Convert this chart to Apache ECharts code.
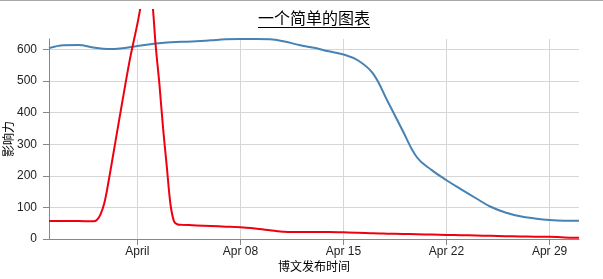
<!DOCTYPE html>
<html><head><meta charset="utf-8">
<script src="https://cdn.jsdelivr.net/npm/echarts@6/dist/echarts.min.js"></script>
<style>html,body{margin:0;padding:0;background:#fff}#c{width:603px;height:279px}</style>
</head><body><div id="c"></div>
<script>
const chartTitle = '一个简单的图表';
const xAxisName = '博文发布时间';
const yAxisName = '影响力';
const YEAR = 2013;

const blueDates = ['03-26','03-27','03-28','03-29','03-30','03-31',
  '04-01','04-02','04-03','04-04','04-05','04-06','04-07','04-08','04-09','04-10',
  '04-11','04-12','04-13','04-14','04-15','04-16','04-17','04-18','04-19','04-20',
  '04-21','04-22','04-23','04-24','04-25','04-26','04-27','04-28','04-29','04-30','05-01'];
const blueValues = [604,613,614,606,601,604,
  611,617,622,624,626,629,632,633,633,632,
  625,614,605,594,584,565,524,436,345,258,
  218,186,157,129,102,84,72,65,60,58,58];

const redDates = ['03-26 00:00','03-27 00:00','03-28 00:00','03-29 00:00','03-29 06:00','03-29 12:00','03-29 18:00',
  '03-30 00:00','03-30 12:00','03-31 00:00','03-31 12:00','04-01 00:00','04-01 12:00','04-01 18:00',
  '04-02 00:00','04-02 06:00','04-02 12:00','04-02 18:00','04-03 00:00','04-03 06:00','04-03 12:00','04-03 18:00',
  '04-04 00:00','04-05 00:00','04-06 00:00','04-07 00:00','04-08 00:00','04-09 00:00','04-10 00:00','04-11 00:00',
  '04-12 00:00','04-13 00:00','04-14 00:00','04-15 00:00','04-16 00:00','04-17 00:00','04-18 00:00','04-19 00:00',
  '04-20 00:00','04-21 00:00','04-22 00:00','04-23 00:00','04-24 00:00','04-25 00:00','04-26 00:00','04-27 00:00',
  '04-28 00:00','04-29 00:00','04-30 00:00','05-01 00:00'];
const redValues = [57,57,57,56,60,78,112,
  170,305,440,570,680,800,830,
  760,610,490,350,230,110,55,46,
  45,43,41,39,37,33,28,23,
  22,22,22,21,20,18,17,16,
  15,14,13,12,11,10,9,8,
  7.5,7,5,4];

const xTickDates = ['04-01','04-08','04-15','04-22','04-29'];
const yTickValues = [0,100,200,300,400,500,600];
const xStart = '03-26', xEnd = '05-01';
const yMax = 633;

const monthsFull = ['January','February','March','April','May','June','July','August','September','October','November','December'];
const monthsShort = ['Jan','Feb','Mar','Apr','May','Jun','Jul','Aug','Sep','Oct','Nov','Dec'];

function ts(s) {
  const parts = s.split(' ');
  const md = parts[0].split('-').map(Number);
  let h = 0, mi = 0;
  if (parts[1]) { const hm = parts[1].split(':').map(Number); h = hm[0]; mi = hm[1]; }
  return Date.UTC(YEAR, md[0] - 1, md[1], h, mi);
}
function fmt(v) {
  const d = new Date(v);
  if (d.getUTCDate() === 1) return monthsFull[d.getUTCMonth()];
  const dd = d.getUTCDate();
  return monthsShort[d.getUTCMonth()] + ' ' + (dd < 10 ? '0' + dd : '' + dd);
}

const labelFont = 'Liberation Sans';
const cjkFont = 'Noto Sans CJK SC';

const chart = echarts.init(document.getElementById('c'), null, {renderer: 'canvas'});
chart.setOption({
  animation: false,
  backgroundColor: '#fff',
  title: {
    text: chartTitle,
    left: 258,
    top: 10,
    padding: 0,
    textStyle: {fontFamily: cjkFont, fontSize: 16, fontWeight: 'normal', color: '#000'}
  },
  grid: {left: 49, right: 24, top: 39, bottom: 40, containLabel: false, outerBoundsMode: 'none'},
  xAxis: {
    type: 'value',
    min: ts(xStart),
    max: ts(xEnd),
    name: xAxisName,
    nameLocation: 'middle',
    nameGap: 21,
    nameMoveOverlap: false,
    nameTextStyle: {fontFamily: cjkFont, fontSize: 12, color: '#000'},
    axisLine: {show: true, lineStyle: {color: '#888', width: 1}},
    axisTick: {show: true, length: 6, lineStyle: {color: '#888'}, customValues: xTickDates.map(ts)},
    axisLabel: {customValues: xTickDates.map(ts), formatter: fmt, fontFamily: labelFont, fontSize: 12, color: '#222', margin: 7},
    splitLine: {show: true, lineStyle: {color: '#d6d6d6', width: 1}}
  },
  yAxis: {
    type: 'value',
    min: 0,
    max: yMax,
    name: yAxisName,
    nameLocation: 'middle',
    nameRotate: 90,
    nameGap: 35,
    nameMoveOverlap: false,
    nameTextStyle: {fontFamily: cjkFont, fontSize: 12, color: '#000'},
    axisLine: {show: true, lineStyle: {color: '#888', width: 1}},
    axisTick: {show: true, length: 6, lineStyle: {color: '#888'}, customValues: yTickValues},
    axisLabel: {customValues: yTickValues, fontFamily: labelFont, fontSize: 12, color: '#222', margin: 12},
    splitLine: {show: true, lineStyle: {color: '#d6d6d6', width: 1}}
  },
  series: [
    {
      type: 'line',
      data: blueDates.map((d, i) => [ts(d), blueValues[i]]),
      smooth: 0.4,
      symbol: 'none',
      lineStyle: {color: '#4682b4', width: 2},
      z: 3
    },
    {
      type: 'line',
      data: redDates.map((d, i) => [ts(d), redValues[i]]),
      smooth: 0.3,
      symbol: 'none',
      clip: false,
      lineStyle: {color: '#ee0010', width: 2},
      z: 4
    }
  ],
  graphic: [
    {type: 'rect', z: 100, shape: {x: 0, y: 1, width: 603, height: 8}, style: {fill: '#fff'}},
    {type: 'rect', z: 101, shape: {x: 0, y: 0, width: 603, height: 1}, style: {fill: '#a8a8a8'}},
    {type: 'line', z: 101, shape: {x1: 258, y1: 27.5, x2: 370, y2: 27.5}, style: {stroke: '#000', lineWidth: 1}}
  ]
});
</script>
</body></html>
